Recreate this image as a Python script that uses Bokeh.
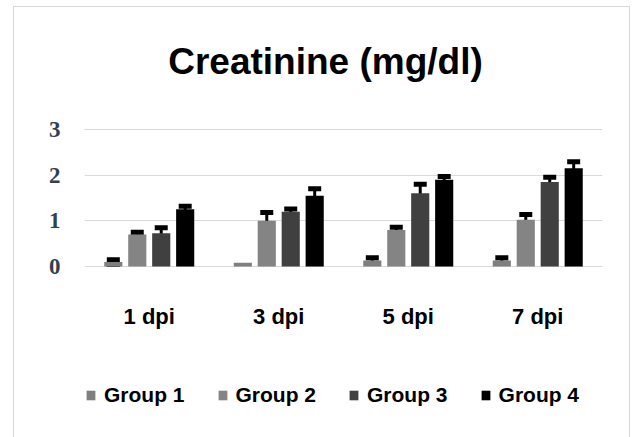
from bokeh.plotting import figure
from bokeh.models import (ColumnDataSource, FactorRange, Range1d, FixedTicker, Whisker,
                          TeeHead, Label, Legend, LegendItem)
from bokeh.transform import dodge
from bokeh.embed import file_html
from bokeh.resources import INLINE

# ---- data ----
days = ["1 dpi", "3 dpi", "5 dpi", "7 dpi"]
groups = ["Group 1", "Group 2", "Group 3", "Group 4"]
group1 = [0.10, 0.08, 0.13, 0.13]
group2 = [0.70, 1.00, 0.80, 1.02]
group3 = [0.73, 1.20, 1.60, 1.85]
group4 = [1.25, 1.55, 1.90, 2.15]
err1 = [0.05, None, 0.06, 0.06]
err2 = [0.05, 0.18, 0.06, 0.12]
err3 = [0.12, 0.06, 0.20, 0.10]
err4 = [0.07, 0.15, 0.07, 0.14]
y_ticks = [0, 1, 2, 3]
title_text = "Creatinine (mg/dl)"

series = [group1, group2, group3, group4]
errors = [err1, err2, err3, err4]
colors = ["#7f7f7f", "#848484", "#404040", "#000000"]
offsets = [-0.2775, -0.0925, 0.0925, 0.2775]
bar_w = 0.14

# frame extends above and below the value axis so that the title and legend live inside it
p = figure(x_range=FactorRange(*days), y_range=Range1d(-3.5, 5.6),
           width=617, height=439, output_backend="svg", toolbar_location=None,
           min_border_left=70, min_border_right=29, min_border_top=3, min_border_bottom=20)
p.styles = {"margin-left": "13px", "margin-top": "6px", "border": "1px solid #d9d9d9"}
p.outline_line_color = None
p.background_fill_color = "white"
p.border_fill_color = "white"

p.xgrid.grid_line_color = None
p.ygrid.grid_line_color = "#d9d9d9"
p.ygrid.grid_line_width = 1
p.yaxis.ticker = FixedTicker(ticks=y_ticks)

p.yaxis.axis_line_color = None
p.yaxis.major_tick_line_color = None
p.yaxis.minor_tick_line_color = None
p.yaxis.major_label_text_font = "Liberation Serif"
p.yaxis.major_label_text_font_style = "bold"
p.yaxis.major_label_text_font_size = "23px"
p.yaxis.major_label_text_color = "#333f4f"
p.yaxis.major_label_standoff = 18

p.xaxis.axis_line_color = None
p.xaxis.major_tick_line_color = None
p.xaxis.minor_tick_line_color = None
p.xaxis.major_label_text_font = "Liberation Sans"
p.xaxis.major_label_text_font_style = "bold"
p.xaxis.major_label_text_font_size = "22px"
p.xaxis.major_label_text_color = "#000000"
p.xaxis.major_label_standoff = -129

items = []
for name, vals, errs, col, off in zip(groups, series, errors, colors, offsets):
    src = ColumnDataSource(dict(day=days, val=vals))
    r = p.vbar(x=dodge("day", off, range=p.x_range), top="val", width=bar_w,
               source=src, fill_color=col, line_color=None)
    items.append(LegendItem(label=name, renderers=[r]))
    wd = [d for d, e in zip(days, errs) if e is not None]
    wu = [v + e for v, e in zip(vals, errs) if e is not None]
    wl = [v - e for v, e in zip(vals, errs) if e is not None]
    wsrc = ColumnDataSource(dict(day=wd, upper=wu, lower=wl))
    w = Whisker(base=dodge("day", off, range=p.x_range), upper="upper", lower="lower",
                source=wsrc, line_color="black", line_width=3,
                upper_head=TeeHead(size=13, line_width=5, line_color="black"),
                lower_head=TeeHead(size=13, line_width=5, line_color="black"))
    p.add_layout(w)

legend = Legend(items=items, orientation="horizontal", location=(1, 19),
                padding=0, margin=0, spacing=32, label_standoff=8,
                glyph_width=11, glyph_height=12,
                label_text_font="Liberation Sans", label_text_font_style="bold",
                label_text_font_size="21px", label_text_color="black",
                border_line_color=None, background_fill_alpha=0)
p.add_layout(legend, "center")

title = Label(x=1.861, y=4.49, text=title_text, text_align="center", text_baseline="alphabetic",
              text_font="Liberation Sans", text_font_style="bold", text_font_size="37px",
              text_color="black")
p.add_layout(title)

open("out.html", "w").write(file_html(p, INLINE))
